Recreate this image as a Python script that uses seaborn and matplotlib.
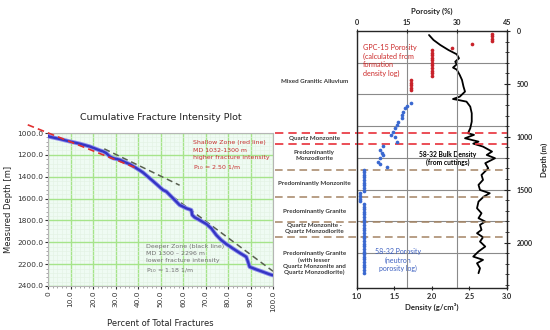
import numpy as np
import pandas as pd
import matplotlib
matplotlib.use("Agg")
import matplotlib.pyplot as plt
from matplotlib.ticker import MultipleLocator
import seaborn as sns

# ---- left panel: cumulative fracture intensity ----
frac_pct = [0, 0, 5.2, 9.6, 14.1, 18.5, 21.5, 23.0, 24.4, 25.9, 27.4, 28.9, 31.9, 34.1, 36.3,
            39.3, 42.2, 45.2, 48.1, 51.1, 52.6, 54.1, 56.3, 58.5, 61.5, 63.7, 64.1, 65.2, 67.4,
            70.4, 72.6, 74.8, 77.0, 79.3, 82.2, 85.2, 88.1, 88.9, 89.6, 92.6, 95.6, 98.5, 100.0]
frac_depth = [1024, 1031, 1055, 1077, 1098, 1123, 1147, 1159, 1168, 1184, 1214, 1230, 1245, 1266, 1285,
              1322, 1361, 1414, 1466, 1521, 1536, 1567, 1613, 1659, 1689, 1705, 1751, 1772, 1797,
              1833, 1873, 1934, 1980, 2017, 2057, 2097, 2133, 2179, 2225, 2249, 2271, 2293, 2302]
shallow_fit_pct = [-9, 40]
shallow_fit_depth = [925, 1327]
deep_fit_upper_pct = [25, 58.5]
deep_fit_upper_depth = [1145, 1478]
deep_fit_lower_pct = [52, 100]
deep_fit_lower_depth = [1530, 2265]
pct_ticks = [0, 10, 20, 30, 40, 50, 60, 70, 80, 90, 100]
pct_labels = ["0", "10.0", "20.0", "30.0", "40.0", "50.0", "60.0", "70.0", "80.0", "90.0", "100.0"]
md_ticks = [1000, 1200, 1400, 1600, 1800, 2000, 2200, 2400]

# ---- right panel: porosity / density log ----
gpc_depth = [25, 48, 71, 94, 123, 164, 182, 206, 230, 254, 278, 302, 326, 350, 374, 398,
             422, 466, 490, 514, 538, 558]
gpc_porosity = [40.4, 40.4, 40.4, 40.4, 34.4, 28.4, 22.4, 22.4, 22.4, 22.4, 22.4, 22.4, 22.4, 22.4,
                22.4, 22.4, 22.4, 16.1, 16.1, 16.1, 16.1, 16.1]

nphi_depth = [678, 709, 731, 762, 794, 825, 857, 888, 920, 951, 983, 1005, 1046, 1087, 1125, 1150,
              1172, 1203, 1241, 1262, 1285,
              1310, 1335, 1360, 1385, 1410, 1435, 1460, 1485, 1510, 1535, 1560, 1585, 1610, 1635,
              1660, 1685, 1710, 1735, 1760, 1785, 1810, 1835, 1860, 1885, 1910, 1935, 1960, 1985,
              2010, 2035, 2060, 2085, 2110, 2135, 2160, 2185, 2210, 2235, 2260, 2285]
nphi_porosity = [16.1, 14.9, 14.4, 13.9, 13.4, 13.4, 12.4, 11.9, 11.4, 10.9, 10.1, 11.4, 11.9, 7.9, 6.9, 7.6,
                 7.9, 6.9, 6.4, 6.9, 8.9,
                 2.2, 2.2, 2.2, 2.2, 2.2, 2.2, 2.2, 2.2, 2.2, 0.9, 0.9, 0.9, 0.9, 2.2,
                 2.2, 2.2, 2.2, 2.2, 2.2, 2.2, 2.2, 2.2, 2.2, 2.2, 2.2, 2.2, 2.2, 2.2,
                 2.2, 2.2, 2.2, 2.2, 2.2, 2.2, 2.2, 2.2, 2.2, 2.2, 2.2, 2.2]

density_depth = [38, 85, 132, 180, 220, 258, 290, 315, 346, 365, 416, 463, 526, 573, 621, 643, 655,
                 668, 715, 778, 857, 920, 967, 982, 1014, 1046, 1065, 1093, 1140, 1172, 1203, 1250,
                 1298, 1361, 1408, 1455, 1503, 1534, 1566, 1613, 1676, 1723, 1770, 1802, 1833, 1880,
                 1912, 1950, 1991, 2038, 2085, 2133, 2164, 2196, 2243, 2290]
bulk_density = [1.96, 2.02, 2.11, 2.22, 2.33, 2.36, 2.31, 2.33, 2.28, 2.33, 2.37, 2.40, 2.42, 2.44, 2.37,
                2.28, 2.37, 2.46, 2.51, 2.53, 2.53, 2.51, 2.48, 2.56, 2.44, 2.62, 2.55, 2.68, 2.80, 2.73,
                2.84, 2.71, 2.75, 2.66, 2.68, 2.62, 2.64, 2.77, 2.69, 2.62, 2.60, 2.66, 2.62, 2.71, 2.64,
                2.66, 2.60, 2.68, 2.64, 2.71, 2.62, 2.55, 2.68, 2.60, 2.64, 2.62]

grid_depths = [300, 600, 900, 1200, 1500, 1800, 2100]
red_boundaries = [967, 1068]
tan_boundaries = [1317, 1566, 1808, 1944]
litho_names = ["Mixed Granitic Alluvium", "Quartz Monzonite", "Predominantly\nMonzodiorite",
               "Predominantly Monzonite", "Predominantly Granite",
               "Quartz Monzonite -\nQuartz Monzodiorite",
               "Predominantly Granite\n(with lesser\nQuartz Monzonite and\nQuartz Monzodiorite)"]
litho_depths = [479, 1014, 1175, 1440, 1708, 1870, 2196]

sns.set_style("white")
plt.rcParams['font.family'] = ['DejaVu Sans']
right_font = ['Lato', 'DejaVu Sans']

fig = plt.figure(figsize=(5.5, 3.3), dpi=100)

# ================= left panel =================
axl = fig.add_axes([48 / 550, 1 - 286 / 330, 225 / 550, 153 / 330])
axl.set_facecolor('#effbf3')
sns.lineplot(x=frac_pct, y=frac_depth, ax=axl, sort=False, estimator=None,
             color='#8c8cec', lw=3.0, zorder=3)
sns.lineplot(x=frac_pct, y=frac_depth, ax=axl, sort=False, estimator=None,
             color='#3535c4', lw=1.7, zorder=4)
axl.plot(shallow_fit_pct, shallow_fit_depth, color='#e03030', lw=1.2, ls=(0, (4, 2.5)),
         clip_on=False, zorder=5)
axl.plot(deep_fit_upper_pct, deep_fit_upper_depth, color='#58604f', lw=1.1, ls=(0, (4, 2.5)), zorder=5)
axl.plot(deep_fit_lower_pct, deep_fit_lower_depth, color='#58604f', lw=1.1, ls=(0, (4, 2.5)), zorder=2)

axl.set_xlim(0, 100)
axl.set_ylim(2400, 1000)
axl.set_xticks(pct_ticks)
axl.set_xticklabels(pct_labels, rotation=90)
axl.set_yticks(md_ticks)
axl.set_yticklabels([f"{v:.1f}" for v in md_ticks])
axl.xaxis.set_minor_locator(MultipleLocator(2))
axl.yaxis.set_minor_locator(MultipleLocator(40))
axl.grid(which='minor', color='#e2f2e2', lw=0.4)
axl.grid(which='major', color='#a6e48a', lw=1.0)
axl.set_axisbelow(True)
axl.tick_params(axis='both', which='major', labelsize=5.3, colors='#333333', length=2, pad=1.5)
axl.tick_params(axis='both', which='minor', length=1.2, color='#999999')
axl.tick_params(axis='x', which='both', bottom=True)
axl.tick_params(axis='y', which='both', left=True)
for s in axl.spines.values():
    s.set_color('#b5b5b5')
    s.set_linewidth(0.8)
axl.set_xlabel('Percent of Total Fractures', fontsize=6, color='#222222', labelpad=5)
axl.set_ylabel('Measured Depth [m]', fontsize=6, color='#222222', labelpad=3)
axl.set_title('Cumulative Fracture Intensity Plot', fontsize=6.8, color='#222222', pad=9)

axl.text(64.4, 1068, 'Shallow Zone (red line)\nMD 1032-1300 m\nhigher fracture intensity\nP$_{10}$ = 2.50 1/m',
         fontsize=4.5, color='#c83030', va='top', ha='left', linespacing=1.55)
axl.text(43.6, 2012, 'Deeper Zone (black line)\nMD 1300 \u2013 2296 m\nlower fracture intensity\nP$_{10}$ = 1.18 1/m',
         fontsize=4.5, color='#707070', va='top', ha='left', linespacing=1.55)

# ================= right panel =================
axr = fig.add_axes([357 / 550, 1 - 288 / 330, 150 / 550, 257 / 330])
for d in grid_depths:
    axr.axhline(d, color='#8a8a8a', lw=0.8, zorder=0)
sns.lineplot(x=bulk_density, y=density_depth, ax=axr, sort=False, estimator=None,
             color='black', lw=1.3, zorder=3)
for d in red_boundaries:
    axr.axhline(d, xmin=-0.547, xmax=1.0, color='#e8303a', lw=1.2, ls=(0, (5, 3)),
                clip_on=False, zorder=4)
for d in tan_boundaries:
    axr.axhline(d, xmin=-0.547, xmax=1.0, color='#a48464', lw=1.1, ls=(0, (5, 3)),
                clip_on=False, zorder=4)

axr.set_xlim(1, 3)
axr.set_xticks([1.0, 1.5, 2.0, 2.5, 3.0])
axr.set_xticklabels(['1.0', '1.5', '2.0', '2.5', '3.0'])
axr.set_ylim(2430, 0)
axr.yaxis.tick_right()
axr.yaxis.set_label_position('right')
axr.set_yticks([0, 500, 1000, 1500, 2000])
axr.yaxis.set_minor_locator(MultipleLocator(100))
axr.tick_params(axis='y', which='major', direction='inout', length=4, width=0.8, labelsize=5, pad=5)
axr.tick_params(axis='y', which='minor', direction='inout', length=2.5, width=0.6)
axr.tick_params(axis='x', which='major', direction='inout', length=3, width=0.8, labelsize=5.2, pad=2)
for lab in axr.get_xticklabels() + axr.get_yticklabels():
    lab.set_family(right_font)
    lab.set_fontweight('bold')
for s in axr.spines.values():
    s.set_color('black')
    s.set_linewidth(0.9)
axr.set_xlabel('Density (g/cm\u00b3)', fontsize=5.6, fontweight='bold', family=right_font, labelpad=2)
axr.set_ylabel('Depth (m)', fontsize=5.6, fontweight='bold', family=right_font, labelpad=6)

axp = axr.twiny()
sns.scatterplot(x=gpc_porosity, y=gpc_depth, ax=axp, color='#c8222a', marker='o', s=7,
                linewidth=0, zorder=5)
sns.scatterplot(x=nphi_porosity, y=nphi_depth, ax=axp, color='#3a68d0', marker='o', s=7,
                linewidth=0, zorder=5)
axp.set_xlim(0, 45)
axp.set_ylim(2430, 0)
axp.set_xticks([0, 15, 30, 45])
axp.grid(axis='x', color='#8a8a8a', lw=0.8)
axp.set_axisbelow(True)
axp.tick_params(axis='x', direction='inout', length=3, width=0.8, labelsize=5.2, pad=2)
for lab in axp.get_xticklabels():
    lab.set_family(right_font)
    lab.set_fontweight('bold')
axp.set_xlabel('Porosity (%)', fontsize=5.6, fontweight='bold', family=right_font, labelpad=4)

# annotations inside the log track
axr.text(1.08, 125, 'GPC-15 Porosity\n(calculated from\nformation\ndensity log)', fontsize=5.2,
         color='#cc2a2a', family=right_font, va='top', ha='left', linespacing=1.25)
axr.text(2.21, 1130, '58-32 Bulk Density\n(from cuttings)', fontsize=4.8, fontweight='bold',
         color='black', family=right_font, va='top', ha='center', linespacing=1.2)
axr.text(1.55, 2055, '58-32 Porosity\n(neutron\nporosity log)', fontsize=5.0,
         color='#3b5fc0', family=right_font, va='top', ha='center', linespacing=1.2)

# lithology labels to the left of the track
for name, d in zip(litho_names, litho_depths):
    axr.text(-0.285, d, name, transform=axr.get_yaxis_transform(), fontsize=4.5, fontweight='bold',
             color='#3a3a3a', family=right_font, ha='center', va='center', linespacing=1.2)

fig.savefig('out.png', dpi=100)
